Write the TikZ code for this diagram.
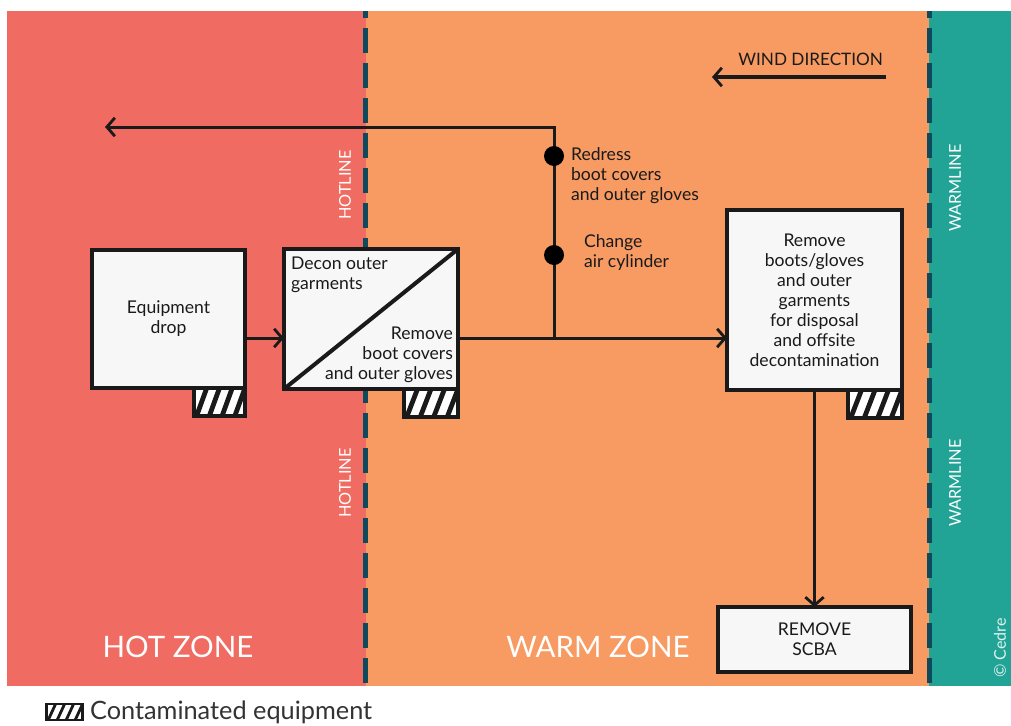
\documentclass[tikz,border=0pt]{standalone}
\usepackage{fontspec}
\setmainfont{Lato}
\usepackage{tikz}
\usepackage{xcolor}
\usetikzlibrary{arrows.meta,positioning,calc}
\definecolor{HotRed}{HTML}{F06B61}
\definecolor{WarmOrange}{HTML}{F89B63}
\definecolor{ColdTeal}{HTML}{21A396}
\definecolor{LineBlue}{HTML}{0F4A5C}
\definecolor{BoxFill}{HTML}{F7F7F7}
\definecolor{BoxLine}{HTML}{1A1A1A}
\definecolor{LegendGrey}{HTML}{333333}
\tikzset{
    % Base box style
    stepbox/.style={
        draw=BoxLine,
        fill=BoxFill,
        line width=1mm,
        inner sep=2pt,
        outer sep=0pt,
        align=center,
        text=BoxLine,
        font=\fontsize{12.5}{14.2}\selectfont
    },
    % Contaminated equipment tag
    hatchbox/.style={
        draw=BoxLine,
        fill=white,
        line width=1mm,
        inner sep=0pt,
        outer sep=0pt,
        minimum width=13.5mm,
        minimum height=7mm,
        path picture={
            \foreach \a/\b in {-0.2/0.0,0.05/0.25,0.3/0.5,0.55/0.75,0.8/1.0}
                \draw[BoxLine, line width=#1]
                    ($(path picture bounding box.south west)!\a!(path picture bounding box.south east)$)
                    -- ($(path picture bounding box.north west)!\b!(path picture bounding box.north east)$);
        }
    },
    % Free text beside the lines
    labeltext/.style={
        align=left,
        inner sep=2pt,
        text=BoxLine,
        font=\fontsize{12.5}{14.2}\selectfont
    },
    % Arrow style
    flowarrow/.style={
        -{Straight Barb[length=2mm,width=4.6mm,line width=0.7mm]},
        line width=0.75mm,
        draw=BoxLine
    },
    % Dot on the return line
    dotnode/.style={
        circle,
        fill=black,
        minimum size=5mm,
        inner sep=0pt
    },
    % Hotline / warmline
    zoneline/.style={
        draw=LineBlue,
        line width=1.25mm,
        dash pattern=on 6.25mm off 2.5mm,
        dash phase=4.5mm
    },
    % Rotated line names
    linelabel/.style={
        rotate=90,
        text=white,
        font=\fontsize{11.6}{13}\selectfont
    },
    % Zone names
    zonelabel/.style={
        text=white,
        font=\fontsize{21}{24}\selectfont
    }
}

\begin{document}
\begin{tikzpicture}[x=0.25mm, y=-0.25mm]
        \useasboundingbox (0,0) rectangle (1011,725);

        % Zones
        \fill[HotRed] (7,11) rectangle (366,686);
        \fill[WarmOrange] (366,11) rectangle (929,686);
        \fill[ColdTeal] (929,11) rectangle (1011,686);
        \draw[zoneline] (365.5,11) -- (365.5,686);
        \draw[zoneline] (929,11) -- (929,686);

        % Line and zone names
        \node[linelabel] (hotA) at (345,185) {HOTLINE};
        \node[linelabel] (hotB) at (345,483) {HOTLINE};
        \node[linelabel] (warmA) at (955,188) {WARMLINE};
        \node[linelabel] (warmB) at (955,483) {WARMLINE};
        \node[zonelabel] (hotzone) at (178,647) {HOT ZONE};
        \node[zonelabel] (warmzone) at (598,647) {WARM ZONE};
        \node[rotate=90, text=white!85!ColdTeal, font=\fontsize{11.5}{13}\selectfont] (credit) at (1000,648) {© Cedre};

        % Boxes
        \node[stepbox, minimum width=38.25mm, minimum height=34.5mm] (drop) at (168.5,319) {Equipment\\drop};
        \node[stepbox, minimum width=43.5mm, minimum height=35mm] (decon) at (371,319) {};
        \draw[BoxLine, line width=1mm] (decon.south west) -- (decon.north east);
        \node[labeltext, anchor=north west] (deconA) at (288,254) {Decon outer\\garments};
        \node[labeltext, align=right, anchor=south east] (deconB) at (456,386) {Remove\\boot covers\\and outer gloves};
        \node[stepbox, minimum width=43.75mm, minimum height=45mm] (remove) at (814.5,300) {Remove\\boots/gloves\\and outer\\garments\\for disposal\\and offsite\\decontamination};
        \node[stepbox, minimum width=48.25mm, minimum height=16.25mm] (scba) at (814.5,639.5) {REMOVE\\SCBA};

        % Contaminated tags
        \node[hatchbox=1.2mm, minimum width=12.75mm, anchor=north east] (dropH) at (drop.south east) {};
        \node[hatchbox=1.2mm, anchor=north east] (deconH) at (decon.south east) {};
        \node[hatchbox=1.2mm, anchor=north east] (removeH) at (remove.south east) {};

        % Arrows
        \coordinate (jct) at (554,338);
        \coordinate (back) at (105,127);
        \draw[flowarrow] (drop.east |- jct) -- (decon.west |- jct);
        \draw[flowarrow] (decon.east |- jct) -- (remove.west |- jct);
        \draw[flowarrow] (jct) |- (back);
        \draw[flowarrow] (remove.south) -- (scba.north);

        % Dots on the return line
        \node[dotnode] (redress) at (554,156) {};
        \node[dotnode] (change) at (554,255) {};
        \node[labeltext, anchor=west] (redressT) at (568,176) {Redress\\boot covers\\and outer gloves};
        \node[labeltext, anchor=west] (changeT) at (581,253) {Change\\air cylinder};

        % Wind direction
        \node[labeltext, anchor=east, font=\fontsize{12.2}{14}\selectfont] (wind) at (886,59) {WIND DIRECTION};
        \coordinate (windS) at (886,77);
        \coordinate (windE) at (712,77);
        \draw[flowarrow, line width=1mm] (windS) -- (windE);

        % Legend
        \node[hatchbox=0.7mm, line width=0.6mm, minimum width=9mm, minimum height=3.9mm] (legH) at (64.5,712) {};
        \node[anchor=west, text=LegendGrey, font=\fontsize{18}{21}\selectfont, inner sep=2pt] (legT) at (87,712) {Contaminated equipment};
    \end{tikzpicture}
\end{document}
